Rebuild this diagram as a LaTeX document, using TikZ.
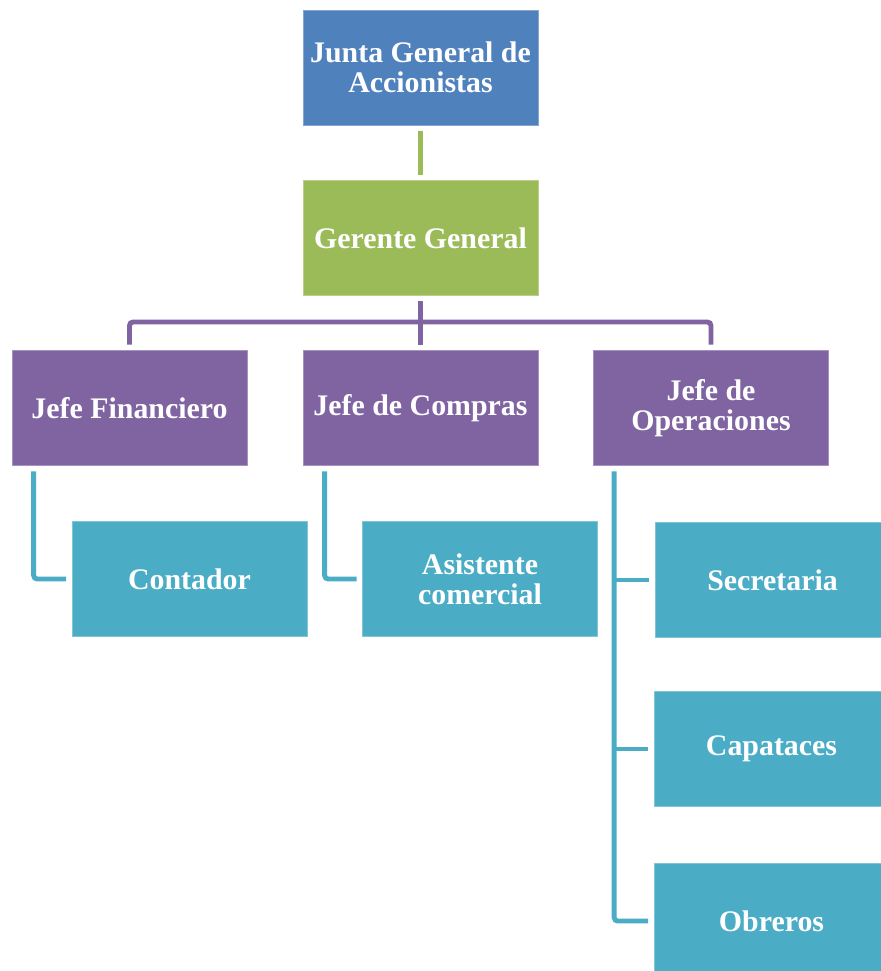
\documentclass[tikz,border=0pt]{standalone}
\usepackage{fontspec}
\setmainfont{Liberation Serif}
\usetikzlibrary{positioning,calc}

\definecolor{boxblue}{HTML}{4F81BD}
\definecolor{boxgreen}{HTML}{9BBB59}
\definecolor{boxpurple}{HTML}{8064A2}
\definecolor{boxaqua}{HTML}{4BACC6}

\begin{document}
\begin{tikzpicture}[
  x=0.02cm, y=-0.02cm,
  font=\fontsize{17}{17}\selectfont\bfseries,
  unit/.style={fill=#1, draw=#1!70!white, line width=0.4pt, text=white, align=center,
               minimum width=4.7cm, minimum height=2.3cm, inner sep=2pt},
  link/.style={draw=#1, line width=2.8pt, rounded corners=2pt,
               shorten <=1.1mm, shorten >=1.1mm},
]
  \useasboundingbox (0,0) rectangle (880,971);

  % top levels
  \node[unit=boxblue]  (junta)   at (420.5,67.5) {Junta General de\\Accionistas};
  \node[unit=boxgreen] (gerente) at (420.5,238)  {Gerente General};

  % jefes
  \node[unit=boxpurple] (jfin) at (129.5,408) {Jefe Financiero};
  \node[unit=boxpurple] (jcom) at (420.5,408) {Jefe de Compras};
  \node[unit=boxpurple] (jope) at (711,408)   {Jefe de\\Operaciones};

  % staff
  \node[unit=boxaqua] (cont) at (189.5,579) {Contador};
  \node[unit=boxaqua] (asis) at (480,579)   {Asistente\\comercial};
  \node[unit=boxaqua] (secr) at (772.5,580) {Secretaria};
  \node[unit=boxaqua] (capa) at (771.5,749) {Capataces};
  \node[unit=boxaqua] (obre) at (771.5,921) {Obreros};

  % junta -- gerente
  \draw[link=boxgreen] (junta) -- (gerente);

  % gerente -- jefes
  \coordinate (bus) at (420.5,322);
  \draw[link=boxpurple] (gerente) -- (jcom);
  \draw[link=boxpurple] (jfin.north) |- (bus) -| (jope.north);

  % jefes -- staff
  \coordinate (tfin) at ([xshift=4.4mm]jfin.south west);
  \coordinate (tcom) at ([xshift=4.4mm]jcom.south west);
  \coordinate (tope) at ([xshift=4.2mm]jope.south west);
  \draw[link=boxaqua] (tfin) |- (cont.west);
  \draw[link=boxaqua] (tcom) |- (asis.west);
  \draw[link=boxaqua] (tope) |- (obre.west);
  \draw[link=boxaqua, shorten <=0pt] (tope |- secr.west) -- (secr.west);
  \draw[link=boxaqua, shorten <=0pt] (tope |- capa.west) -- (capa.west);
\end{tikzpicture}
\end{document}
